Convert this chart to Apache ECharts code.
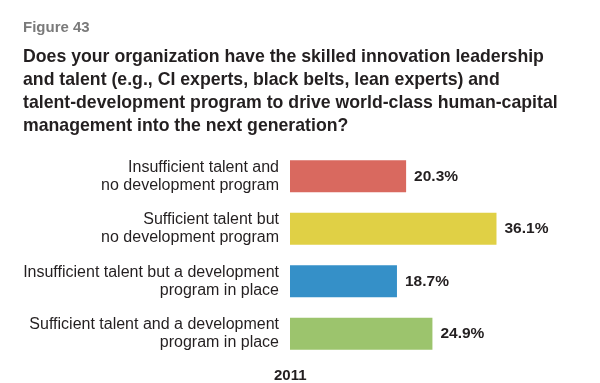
<!DOCTYPE html>
<html><head><meta charset="utf-8">
<script src="https://cdn.jsdelivr.net/npm/echarts@6/dist/echarts.min.js"></script>
<style>html,body{margin:0;padding:0;background:#fff}#c{width:600px;height:383px}</style>
</head><body><div id="c"></div>
<script>
const categories = [
  "Insufficient talent and\nno development program",
  "Sufficient talent but\nno development program",
  "Insufficient talent but a development\nprogram in place",
  "Sufficient talent and a development\nprogram in place"
];
const values = [20.3, 36.1, 18.7, 24.9];
const barColors = ["#d9695f", "#e0d045", "#3590c8", "#9cc46d"];
const figureLabel = "Figure 43";
const questionText = "Does your organization have the skilled innovation leadership\nand talent (e.g., CI experts, black belts, lean experts) and\ntalent-development program to drive world-class human-capital\nmanagement into the next generation?";
const yearLabel = "2011";

const FONT = "'Liberation Sans',Arial,sans-serif";
const chart = echarts.init(document.getElementById('c'));
chart.setOption({
  animation: false,
  backgroundColor: '#fff',
  title: [
    { text: figureLabel, left: 18, top: 15, textStyle: { fontFamily: FONT, fontSize: 15, fontWeight: 'bold', color: '#7a7a7a' } },
    { text: questionText, left: 18, top: 41, textStyle: { fontFamily: FONT, fontSize: 17.7, fontWeight: 'bold', color: '#231f20', lineHeight: 23 } }
  ],
  graphic: [
    { type: 'text', left: 274, top: 368, style: { text: yearLabel, font: "bold 15px 'Liberation Sans',Arial,sans-serif", fill: '#231f20' } }
  ],
  grid: { left: 290, right: 24, top: 150, height: 210 },
  xAxis: { type: 'value', min: 0, max: 50, show: false },
  yAxis: {
    type: 'category', data: categories, inverse: true,
    axisLine: { show: false }, axisTick: { show: false },
    axisLabel: { fontFamily: FONT, fontSize: 16, color: '#231f20', lineHeight: 18, margin: 11, align: 'right' }
  },
  series: [{
    type: 'bar', barWidth: 32,
    data: values.map((v, i) => ({ value: v, itemStyle: { color: barColors[i] } })),
    label: { show: true, position: 'right', distance: 8, formatter: p => p.value.toFixed(1) + '%',
      fontFamily: FONT, fontSize: 15.5, fontWeight: 'bold', color: '#231f20' }
  }]
});
</script></body></html>
